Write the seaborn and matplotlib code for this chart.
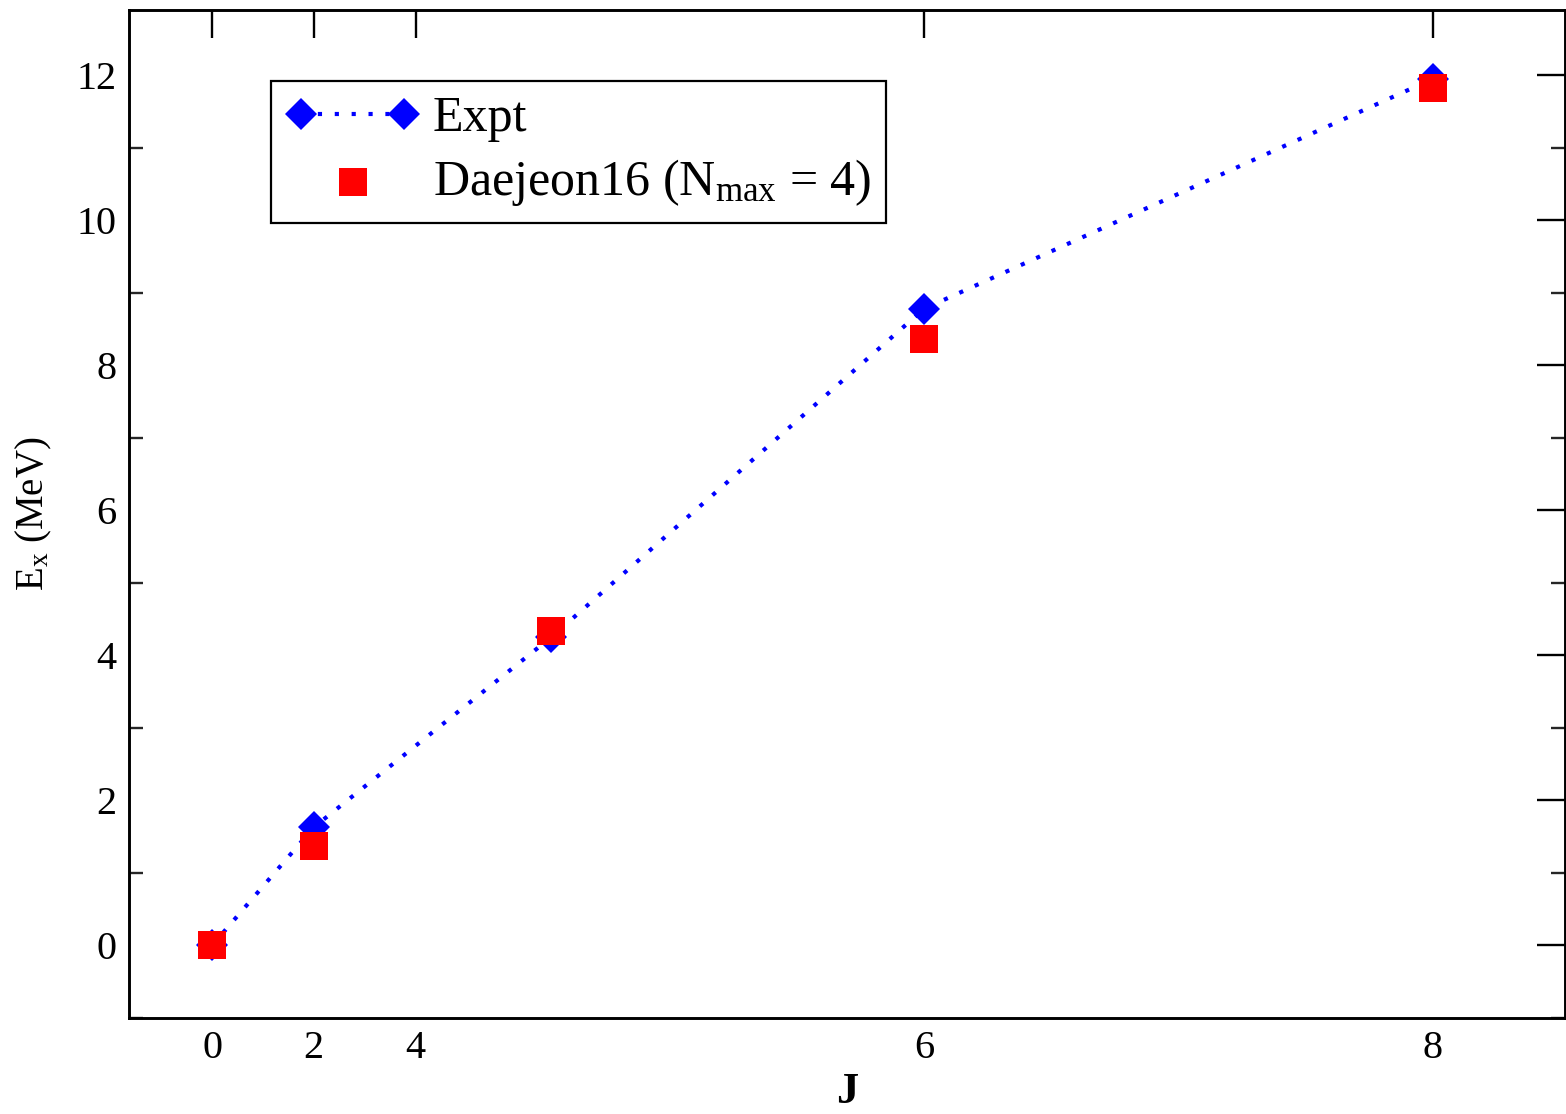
import matplotlib
matplotlib.use("Agg")
import matplotlib.pyplot as plt
import seaborn as sns
import pandas as pd

# ---- data ----
J_pos = [0, 6, 20, 42, 72]            # positions on the x scale
expt = [0.0, 1.63, 4.25, 8.78, 11.95]
daejeon = [0.0, 1.37, 4.34, 8.36, 11.82]
xtick_pos = [0, 6, 12, 42, 72]
xtick_labels = ["0", "2", "4", "6", "8"]
ytick_major = [0, 2, 4, 6, 8, 10, 12]
ytick_minor = [-1, 1, 3, 5, 7, 9, 11]

sns.set_theme(style="white")
plt.rcParams["font.family"] = ["Liberation Serif", "DejaVu Serif"]
plt.rcParams["mathtext.fontset"] = "custom"
plt.rcParams["mathtext.rm"] = "Liberation Serif"
plt.rcParams["mathtext.it"] = "Liberation Serif:italic"
plt.rcParams["mathtext.bf"] = "Liberation Serif:bold"
plt.rcParams["text.color"] = "black"
plt.rcParams["axes.labelcolor"] = "black"

df_e = pd.DataFrame({"x": J_pos, "y": expt})
df_d = pd.DataFrame({"x": J_pos, "y": daejeon})

fig = plt.figure(figsize=(15.66, 11.14), dpi=100)
ax = fig.add_axes([129 / 1566, 1 - 1018 / 1114, (1565 - 129) / 1566, (1018 - 10) / 1114])

sns.lineplot(data=df_e, x="x", y="y", ax=ax, color=(0, 0, 1), marker="D",
             markersize=15.8, markeredgewidth=0, linestyle=(0, (1, 3.05)),
             linewidth=3, label="Expt", zorder=3)
sns.scatterplot(data=df_d, x="x", y="y", ax=ax, color=(1, 0, 0), marker="s",
                s=19.8 ** 2, linewidth=0, label=r"Daejeon16 (N$_{\mathrm{max}}$ = 4)",
                zorder=4)

ax.set_xlim(-4.9, 79.8)
ax.set_ylim(-0.9, 12.9)
ax.set_xticks(xtick_pos)
ax.set_xticklabels(xtick_labels)
ax.set_yticks(ytick_major)
ax.set_yticks(ytick_minor, minor=True)

ax.tick_params(axis="both", which="major", direction="in", length=20, width=1.7,
               labelsize=29, top=True, right=True, pad=9, colors="black")
ax.tick_params(axis="y", which="minor", direction="in", length=10, width=1.7,
               left=True, right=True)
ax.tick_params(axis="x", which="minor", bottom=False, top=False)

for sp in ax.spines.values():
    sp.set_visible(True)
    sp.set_linewidth(2.1)
    sp.set_color("black")

ax.set_xlabel("J", fontsize=32, fontweight="bold", labelpad=3, color="black")
ax.set_ylabel(r"E$_{\mathrm{x}}$ (MeV)", fontsize=28, labelpad=16, color="black")

leg = ax.legend(loc="upper left", bbox_to_anchor=(0.099, 0.9296), fontsize=36,
                numpoints=2, scatterpoints=1, handlelength=2.66, handletextpad=0.27,
                labelspacing=0.3, borderpad=0.3, borderaxespad=0, frameon=True,
                fancybox=False, edgecolor="black", framealpha=1)
leg.get_frame().set_linewidth(1.6)
for t in leg.get_texts():
    t.set_color("black")

fig.savefig("out.png", dpi=100)
